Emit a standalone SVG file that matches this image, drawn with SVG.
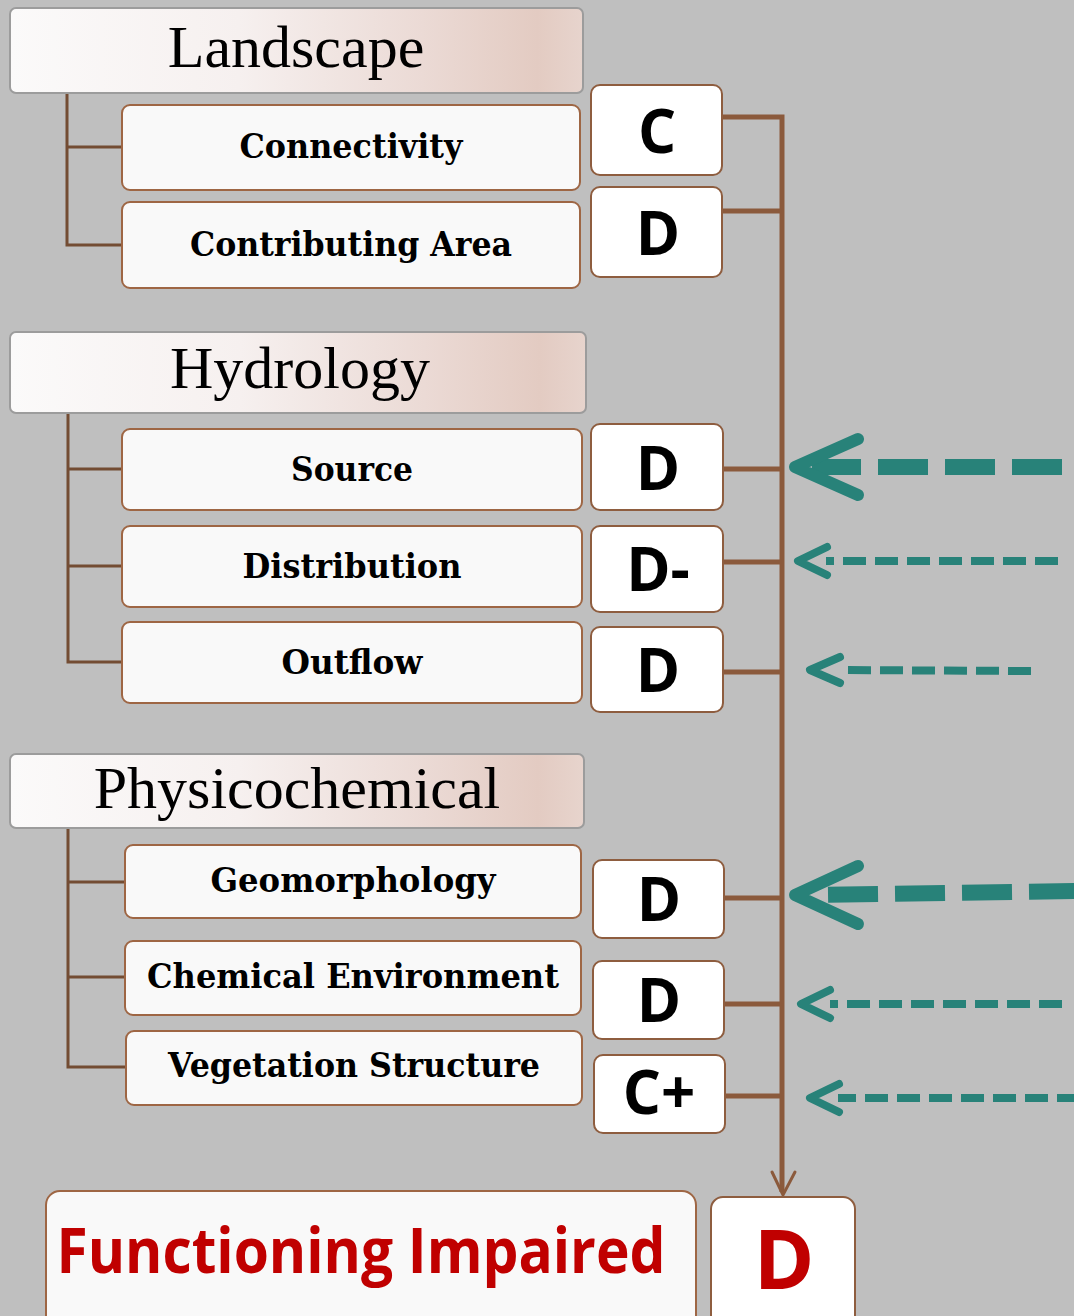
<svg xmlns="http://www.w3.org/2000/svg" width="1074" height="1316" viewBox="0 0 1074 1316">
<defs>
<linearGradient id="hdr" x1="0" y1="0" x2="1" y2="0">
<stop offset="0" stop-color="#FBFAFA"/>
<stop offset="0.4" stop-color="#F6F0EF"/>
<stop offset="0.72" stop-color="#EBDAD5"/>
<stop offset="0.92" stop-color="#E3CBC2"/>
<stop offset="1" stop-color="#E7D4CD"/>
</linearGradient>
</defs>
<style>
.hdr{fill:url(#hdr);stroke:#9C9C9C;stroke-width:2}
.lbl{fill:#F9F9F9;stroke:#9E6644;stroke-width:2}
.grd{fill:#FFFFFF;stroke:#8E5D3F;stroke-width:2}
.ht{font-family:"Liberation Serif",serif;font-size:60px;fill:#000;text-anchor:middle}
.lt{font-family:"DejaVu Serif",serif;font-weight:bold;font-size:33px;fill:#000;text-anchor:middle}
.gt{font-family:"Open Sans",sans-serif;font-weight:bold;font-size:60px;fill:#000;text-anchor:middle}
.tree{fill:none;stroke:#734C33;stroke-width:3}
.conn{fill:none;stroke:#8B5A3C;stroke-width:5}
.big{fill:none;stroke:#288279;stroke-width:16}
.sm{fill:none;stroke:#288279;stroke-width:8;stroke-dasharray:23 9}
.hb{fill:none;stroke:#288279;stroke-width:12;stroke-linecap:round;stroke-linejoin:round}
.hs{fill:none;stroke:#288279;stroke-width:8;stroke-linecap:round;stroke-linejoin:round}
</style>
<rect x="0" y="0" width="1074" height="1316" fill="#BFBFBF"/>

<g id="connectors">
<path class="tree" d="M67,93 V245 H122 M67,147 H122"/>
<path class="tree" d="M68,413 V662 H122 M68,469 H122 M68,566 H122"/>
<path class="tree" d="M68,828 V1067 H126 M68,882 H125 M68,977 H125"/>
<path class="conn" d="M722,117 H782 V1192"/>
<path class="conn" d="M723,211 H782 M723,469 H782 M723,562 H782 M723,672 H782 M724,898 H782 M724,1004 H782 M725,1096 H782"/>
<path fill="none" stroke="#8B5A3C" stroke-width="3" stroke-linecap="round" d="M772,1172 L783,1195 L795,1172"/>
<line class="big" x1="1062" y1="467" x2="812" y2="467" stroke-dasharray="50 17"/>
<path class="hb" d="M858,439 L795,467 L858,495"/>
<line class="sm" x1="1058" y1="561" x2="826" y2="561"/>
<path class="hs" d="M827,547 L798,561 L827,575"/>
<line class="sm" x1="1031" y1="671" x2="840" y2="670"/>
<path class="hs" d="M840,657 L810,670 L840,683"/>
<line class="big" x1="1079" y1="891" x2="812" y2="895" stroke-dasharray="50 17"/>
<path class="hb" d="M858,866 L795,895 L858,924"/>
<line class="sm" x1="1062" y1="1004" x2="830" y2="1004"/>
<path class="hs" d="M830,990 L801,1004 L830,1018"/>
<line class="sm" x1="1080" y1="1098" x2="838" y2="1098"/>
<path class="hs" d="M839,1084 L810,1098 L839,1112"/>
</g>

<g id="landscape">
<rect class="hdr" x="10" y="8" width="573" height="85" rx="6"/>
<text class="ht" x="296" y="67">Landscape</text>
</g>
<g id="connectivity">
<rect class="lbl" x="122" y="105" width="458" height="85" rx="8"/>
<text class="lt" x="351" y="158" textLength="223" lengthAdjust="spacingAndGlyphs">Connectivity</text>
</g>
<g id="contributing-area">
<rect class="lbl" x="122" y="202" width="458" height="86" rx="8"/>
<text class="lt" x="351" y="256" textLength="322" lengthAdjust="spacingAndGlyphs">Contributing Area</text>
</g>
<g id="grade-connectivity">
<rect class="grd" x="591" y="85" width="131" height="90" rx="9"/>
<text class="gt" x="657" y="153">C</text>
</g>
<g id="grade-contributing">
<rect class="grd" x="591" y="187" width="131" height="90" rx="9"/>
<text class="gt" x="658" y="255">D</text>
</g>

<g id="hydrology">
<rect class="hdr" x="10" y="332" width="576" height="81" rx="6"/>
<text class="ht" x="300" y="388">Hydrology</text>
</g>
<g id="source">
<rect class="lbl" x="122" y="429" width="460" height="81" rx="8"/>
<text class="lt" x="352" y="481" textLength="122" lengthAdjust="spacingAndGlyphs">Source</text>
</g>
<g id="distribution">
<rect class="lbl" x="122" y="526" width="460" height="81" rx="8"/>
<text class="lt" x="352" y="578" textLength="219" lengthAdjust="spacingAndGlyphs">Distribution</text>
</g>
<g id="outflow">
<rect class="lbl" x="122" y="622" width="460" height="81" rx="8"/>
<text class="lt" x="352" y="674" textLength="141" lengthAdjust="spacingAndGlyphs">Outflow</text>
</g>
<g id="grade-source">
<rect class="grd" x="591" y="424" width="132" height="86" rx="9"/>
<text class="gt" x="658" y="490">D</text>
</g>
<g id="grade-distribution">
<rect class="grd" x="591" y="526" width="132" height="86" rx="9"/>
<text class="gt" x="658" y="591">D-</text>
</g>
<g id="grade-outflow">
<rect class="grd" x="591" y="627" width="132" height="85" rx="9"/>
<text class="gt" x="658" y="692">D</text>
</g>

<g id="physicochemical">
<rect class="hdr" x="10" y="754" width="574" height="74" rx="6"/>
<text class="ht" x="297" y="808">Physicochemical</text>
</g>
<g id="geomorphology">
<rect class="lbl" x="125" y="845" width="456" height="73" rx="8"/>
<text class="lt" x="353" y="892" textLength="285" lengthAdjust="spacingAndGlyphs">Geomorphology</text>
</g>
<g id="chemical-environment">
<rect class="lbl" x="125" y="941" width="456" height="74" rx="8"/>
<text class="lt" x="353" y="988" textLength="412" lengthAdjust="spacingAndGlyphs">Chemical Environment</text>
</g>
<g id="vegetation-structure">
<rect class="lbl" x="126" y="1031" width="456" height="74" rx="8"/>
<text class="lt" x="354" y="1077" textLength="372" lengthAdjust="spacingAndGlyphs">Vegetation Structure</text>
</g>
<g id="grade-geomorphology">
<rect class="grd" x="593" y="860" width="131" height="78" rx="9"/>
<text class="gt" x="659" y="921">D</text>
</g>
<g id="grade-chemical">
<rect class="grd" x="593" y="961" width="131" height="78" rx="9"/>
<text class="gt" x="659" y="1022">D</text>
</g>
<g id="grade-vegetation">
<rect class="grd" x="594" y="1055" width="131" height="78" rx="9"/>
<text class="gt" x="659" y="1114">C+</text>
</g>

<g id="functioning">
<rect class="lbl" x="46" y="1191" width="650" height="140" rx="14" stroke="#8E5D3F"/>
<text x="361" y="1273" font-family="'Open Sans',sans-serif" font-weight="bold" font-size="62" fill="#C00000" text-anchor="middle" textLength="609" lengthAdjust="spacingAndGlyphs">Functioning Impaired</text>
</g>
<g id="grade-overall">
<rect class="grd" x="711" y="1197" width="144" height="135" rx="12"/>
<text x="784" y="1289" font-family="'Open Sans',sans-serif" font-weight="bold" font-size="82" fill="#C00000" text-anchor="middle">D</text>
</g>
</svg>
